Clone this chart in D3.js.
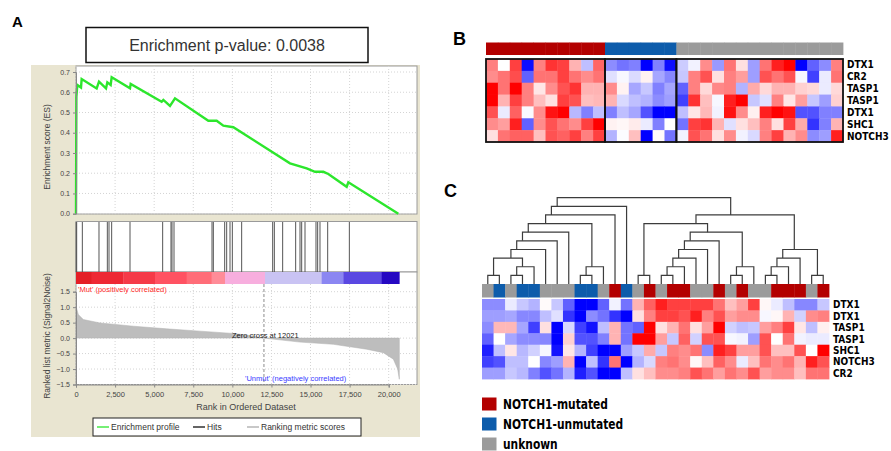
<!DOCTYPE html>
<html lang="en">
<head>
<meta charset="UTF-8">
<title>NOTCH1 GSEA and heatmaps</title>
<script src="https://cdn.jsdelivr.net/npm/d3@7"></script>
<style>
  body { margin: 0; background: #fff; }
  text { font-family: "Liberation Sans", Arial, sans-serif; }
  .lab { font-family: "Liberation Sans Narrow", "DejaVu Sans Condensed", "Liberation Sans", sans-serif; font-weight: bold; }
</style>
</head>
<body>
<div id="fig"></div>
<script>
// ---------- panel A data ----------
var xTicks = [0, 2500, 5000, 7500, 10000, 12500, 15000, 17500, 20000];
var esTicks = [0, 0.1, 0.2, 0.3, 0.4, 0.5, 0.6, 0.7];
var metricTicks = [1.5, 1.0, 0.5, 0.0, -0.5, -1.0, -1.5];

// running enrichment score
var esRank  = [0, 25, 85, 320, 362, 1322, 1471, 1919, 2004, 2217, 2281, 3454, 3497, 5479, 5586, 6012, 6332, 8464, 8997, 9423, 10063, 13687, 14754, 15287, 15820, 16140, 17312, 17419, 20616];
var esScore = [0, 0.578, 0.636, 0.623, 0.665, 0.619, 0.652, 0.619, 0.649, 0.636, 0.674, 0.619, 0.641, 0.553, 0.562, 0.532, 0.57, 0.459, 0.459, 0.435, 0.427, 0.249, 0.224, 0.207, 0.207, 0.196, 0.133, 0.155, 0];

var hitRanks = [10, 43, 405, 1471, 2004, 2111, 2281, 3454, 5543, 6076, 6140, 6268, 8699, 8784, 9509, 9637, 9850, 9999, 10596, 12579, 12685, 13218, 14050, 14327, 14434, 14647, 15350, 15457, 15606, 16097, 17483];

var metricRank  = [0, 149, 469, 1535, 3667, 5799, 7931, 10063, 11000, 12021, 14327, 16459, 18591, 19657, 20296, 20573, 20680];
var metricValue = [1.03, 0.76, 0.6, 0.49, 0.385, 0.3, 0.225, 0.15, 0.09, 0, -0.13, -0.2, -0.36, -0.47, -0.68, -1.0, -1.33];
var zeroCross = 12021;

var barStops  = [0, 1002, 3028, 5053, 7079, 8677, 9530, 12088, 15713, 17099, 19550, 20680];
var barColors = ["#e41e26", "#ee2834", "#f53a48", "#ff5262", "#ff6d78", "#ff8c98", "#f7aede", "#c9c3f3", "#8b86f2", "#5a48e2", "#2508c2"];

// ---------- panels B and C data ----------
var groupNames  = ["NOTCH1-mutated", "NOTCH1-unmutated", "unknown"];
var groupColors = ["#b30000", "#0d5cab", "#9b9b9b"];

var genesB  = ["DTX1", "CR2", "TASP1", "TASP1", "DTX1", "SHC1", "NOTCH3"];
var groupsB = [0,0,0,0,0,0,0,0,0,0, 1,1,1,1,1,1, 2,2,2,2,2,2,2,2,2,2,2,2,2,2];
var heatB = [
  [0.5, 0, 0.75, -0.95, 0.5, 0.8, 0.75, 0.3, -0.25, 0.6,  -0.45, -0.55, -0.5, -1, -0.5, -0.95,  -0.2, -0.05, 0.45, -0.4, 0.55, 0.12, -0.38, 0.55, 0.88, 1, -1, -0.62, -0.45, 0.5],
  [0.45, 0.55, 0.7, -0.62, 0.55, 0.55, 0.75, 0.55, 0.45, 0.55,  -0.12, -0.03, -0.14, 0.05, -0.35, -0.47,  -0.22, 0.5, 0.68, 0.12, 0.5, 0.38, -0.38, 0.68, 0.55, 0.68, -0.03, -0.75, -0.08, 0.55],
  [1, 0.55, 1, 0.5, 0.1, 0.45, 0.68, 0.8, 0.3, 0.3,  0.45, 0.05, -0.35, -0.22, -0.5, -0.35,  -0.62, 0.5, 0.15, 0.47, 0.5, -0.3, 0.33, 0.15, 0.3, 0.3, 0.18, 0.15, -0.08, 0.15],
  [1, 0.3, 0.75, 0.5, 0.25, 0.12, 0.75, 0.68, 0.25, 0.28,  0.3, -0.15, -0.25, -0.3, -0.45, -0.38,  -0.75, 0.8, 0.25, -0.03, 0.88, 1, -0.22, -0.12, 0.5, 0.1, 0.38, -0.22, -0.38, 0.18],
  [0.68, -0.08, 0.62, -0.02, 0.45, 0.93, 1, -0.28, -0.5, -0.25,  -0.5, -0.25, -0.35, -0.68, -1, -1,  -0.25, 0.1, 0.28, -0.05, 0.93, 0.45, 0.06, 0.88, 1, 0.93, -0.68, -0.68, -0.5, -0.5],
  [0.45, 0.38, 0.88, -0.62, 0.45, 0.68, 0.55, 0.45, 0.75, 1,  0.05, 0.03, 0.08, -0.08, -0.5, 0,  -0.55, 0.75, 0.8, 0.3, -0.12, 0.12, 0.25, 0.5, 0.12, 0.75, 0.33, -0.8, -0.5, 0.3],
  [0.12, 0.55, 0.62, 0.62, 0.25, 0.68, 0.62, 0.75, 0.5, 0.75,  -0.3, -0.01, 0.25, -1, 0.02, -0.55,  -0.05, 0.68, 0.55, 0.12, 0.45, -0.05, -0.15, 0.5, 0.75, 0.3, 0.45, -0.45, -0.38, 0.88]
];

var genesC  = ["DTX1", "DTX1", "TASP1", "TASP1", "SHC1", "NOTCH3", "CR2"];
var groupsC = [2,1,2,1,1,2,2,2,1,1,2,0,1,2,0,2,0,0,2,2,0,2,0,2,2,0,0,0,2,0];
var heatC = [
  [-0.45, -0.45, -0.08, -0.22, -0.3, 0.02, -0.22, -0.62, -1, -1, -0.62, -0.05, -0.55, 0.3, 0.62, 0.88, 0.75, 0.75, 0.75, 0.75, 0.55, 0.25, 0.38, 0.75, 0.03, -0.08, -0.25, -0.47, -0.47, -0.22],
  [-0.38, -0.38, -0.35, -0.47, -0.47, -0.25, -0.12, -0.8, -1, -0.45, -0.55, -0.8, -1, 0.12, 0.5, 0.75, 0.75, 0.68, 0.88, 0.5, 0.68, 0.38, 0.45, 0.45, -0.03, 0.03, 0.3, -0.18, 0.45, 0.5],
  [-0.45, 0.28, 0.28, -0.35, -0.75, 0.12, -1, -0.15, -0.75, -0.93, -0.25, 0.3, -0.55, -0.62, 1, 0.12, 0.3, 0.55, 0.12, 0.38, 1, -0.18, -0.25, -0.22, 0.38, 0.5, 0.75, 0.1, -0.25, 0.06],
  [-0.62, 0, -0.35, -0.45, -0.45, -0.47, -1, 0.18, -0.68, -0.68, -0.5, 0.3, -0.55, 1, 1, 0.38, -0.22, 0.62, -0.18, 0.68, 0.68, -0.03, -0.05, -0.38, 0.68, 0, 0.55, -0.05, -0.08, -0.08],
  [-0.88, -0.25, 0.1, -0.28, -0.18, -0.03, -0.93, 0.1, -0.3, -0.75, -1, -1, -0.38, -0.22, 0.33, -0.22, 0.5, 0.45, 0.55, -0.45, 0.88, 0.75, 0.38, 0.38, 0.68, 0.25, 0.25, 0.68, 0, 1],
  [-0.75, -0.68, -0.25, -0.25, 0, -0.47, -0.38, 0.3, -1, -0.25, -0.8, 0.55, -1, -0.3, -0.15, 0.5, 0.55, 0.45, 0.03, 0.25, 0.62, 0.45, -0.08, 0.25, 0.55, 0.45, 0.55, 0.3, 0.88, 0.68],
  [-0.38, -0.38, -0.22, -0.28, -0.5, -0.68, -0.55, -0.3, -0.88, -0.68, -1, -1, -0.25, 0.12, 0.25, 0.45, 0.45, 0.5, 0.68, 0.55, 0.38, 0.55, 0.45, 0.68, 0.38, 0.45, 0.45, 0.25, 0.55, 0.55]
];

// dendrogram merges: [left, right, level]; leaves are 0..29, merge k gets id 30+k
var merges = [
  [0, 1, 1], [2, 3, 1], [31, 4, 2], [30, 32, 3], [33, 5, 4], [34, 6, 5], [35, 7, 6],
  [8, 9, 1], [37, 10, 2], [36, 38, 7], [39, 11, 8], [40, 12, 9],
  [13, 14, 1], [15, 16, 1], [43, 17, 2], [44, 18, 3], [45, 19, 4], [46, 20, 5],
  [21, 22, 1], [48, 23, 2], [47, 49, 6], [42, 50, 7],
  [24, 25, 1], [52, 26, 2], [53, 27, 3], [28, 29, 1], [54, 55, 4], [51, 56, 8],
  [41, 57, 10]
];

var svg = d3.select("#fig").append("svg")
    .attr("width", 891)
    .attr("height", 451);

// =============== Panel A ===============
var x = d3.scaleLinear().domain([0, 20000]).range([76, 388.7]);
var yES = d3.scaleLinear().domain([0, 0.7]).range([213.7, 72]);
var yM = d3.scaleLinear().domain([-1.5, 1.5]).range([384.5, 291.7]);
var left = 76, right = 417;

svg.append("rect").attr("x", 31).attr("y", 65).attr("width", 389).attr("height", 372).attr("fill", "#e9e5d1");

// plot backgrounds
svg.append("rect").attr("x", left).attr("y", 66).attr("width", right - left).attr("height", 148)
    .attr("fill", "#fff").attr("stroke", "#9a9a9a");
svg.append("rect").attr("x", left).attr("y", 221.5).attr("width", right - left).attr("height", 50.5)
    .attr("fill", "#fff").attr("stroke", "#9a9a9a");
svg.append("rect").attr("x", left).attr("y", 272).attr("width", right - left).attr("height", 112.5)
    .attr("fill", "#fff").attr("stroke", "#9a9a9a");

// grids
var grid = svg.append("g").attr("stroke", "#d4d4d4").attr("stroke-dasharray", "1,2");
xTicks.forEach(function(t) {
  grid.append("line").attr("x1", x(t)).attr("x2", x(t)).attr("y1", 66).attr("y2", 214);
  grid.append("line").attr("x1", x(t)).attr("x2", x(t)).attr("y1", 284).attr("y2", 384.5);
});
esTicks.forEach(function(t) {
  grid.append("line").attr("x1", left).attr("x2", right).attr("y1", yES(t)).attr("y2", yES(t));
});
metricTicks.forEach(function(t) {
  grid.append("line").attr("x1", left).attr("x2", right).attr("y1", yM(t)).attr("y2", yM(t));
});

// ES curve
var esData = esRank.map(function(r, i) { return [r, esScore[i]]; });
svg.append("path")
    .datum(esData)
    .attr("fill", "none")
    .attr("stroke", "#2ce62c")
    .attr("stroke-width", 2.4)
    .attr("d", d3.line().x(d => x(d[0])).y(d => yES(d[1])));

// hits
svg.append("g").selectAll("line").data(hitRanks).join("line")
    .attr("x1", d => x(d)).attr("x2", d => x(d))
    .attr("y1", 222).attr("y2", 272)
    .attr("stroke", "#555").attr("stroke-width", 1);

// colour bar
svg.append("g").selectAll("rect").data(barColors).join("rect")
    .attr("x", (d, i) => x(barStops[i]))
    .attr("width", (d, i) => x(barStops[i + 1]) - x(barStops[i]) + 0.3)
    .attr("y", 272).attr("height", 12)
    .attr("fill", d => d);

// ranked metric area
var mData = metricRank.map(function(r, i) { return [r, metricValue[i]]; });
svg.append("path")
    .datum(mData)
    .attr("fill", "#bdbdbd")
    .attr("stroke", "#b0b0b0")
    .attr("stroke-width", 0.5)
    .attr("d", d3.area().x(d => x(d[0])).y0(yM(0)).y1(d => yM(d[1])));

svg.append("line")
    .attr("x1", x(zeroCross)).attr("x2", x(zeroCross))
    .attr("y1", 284).attr("y2", 384.5)
    .attr("stroke", "#8c8c8c").attr("stroke-dasharray", "3,2");

svg.append("text").attr("x", 232).attr("y", 338).attr("font-size", 7.5).attr("fill", "#222")
    .text("Zero cross at " + zeroCross);
svg.append("text").attr("x", 78).attr("y", 292).attr("font-size", 7.5).attr("fill", "#ff2a2a")
    .text("'Mut' (positively correlated)");
svg.append("text").attr("x", 245).attr("y", 381).attr("font-size", 7.5).attr("fill", "#3a3aff")
    .text("'Unmut' (negatively correlated)");

// axes
var axES = svg.append("g").attr("transform", "translate(" + left + ",0)")
    .call(d3.axisLeft(yES).tickValues(esTicks).tickFormat(d3.format(".1f")).tickSize(3));
var axM = svg.append("g").attr("transform", "translate(" + left + ",0)")
    .call(d3.axisLeft(yM).tickValues(metricTicks).tickFormat(d3.format(".1f")).tickSize(3));
var axX = svg.append("g").attr("transform", "translate(0,384.5)")
    .call(d3.axisBottom(x).tickValues(xTicks).tickFormat(d3.format(",")).tickSize(3));
[axES, axM, axX].forEach(function(a) {
  a.select(".domain").attr("stroke", "#888");
  a.selectAll(".tick line").attr("stroke", "#888");
  a.selectAll("text").attr("fill", "#444").attr("font-family", "Liberation Sans, Arial");
});
axES.selectAll("text").attr("font-size", 7);
axM.selectAll("text").attr("font-size", 7);
axX.selectAll("text").attr("font-size", 7.5).attr("dy", "0.9em");

svg.append("text").attr("transform", "translate(50,147) rotate(-90)").attr("text-anchor", "middle")
    .attr("font-size", 8.5).attr("fill", "#444").text("Enrichment score (ES)");
svg.append("text").attr("transform", "translate(50,336) rotate(-90)").attr("text-anchor", "middle")
    .attr("font-size", 8.5).attr("fill", "#444").text("Ranked list metric (Signal2Noise)");
svg.append("text").attr("x", 246).attr("y", 410).attr("text-anchor", "middle")
    .attr("font-size", 9).attr("fill", "#444").text("Rank in Ordered Dataset");

// legend of panel A
var legA = svg.append("g");
legA.append("rect").attr("x", 93).attr("y", 418).attr("width", 268).attr("height", 18)
    .attr("fill", "#fff").attr("stroke", "#222");
var legItems = [
  {x: 97, color: "#2ce62c", label: "Enrichment profile"},
  {x: 193, color: "#111", label: "Hits"},
  {x: 247, color: "#aaa", label: "Ranking metric scores"}
];
legItems.forEach(function(d) {
  legA.append("line").attr("x1", d.x).attr("x2", d.x + 12).attr("y1", 427).attr("y2", 427)
      .attr("stroke", d.color).attr("stroke-width", 1.3);
  legA.append("text").attr("x", d.x + 14).attr("y", 430).attr("font-size", 8.5).attr("fill", "#333").text(d.label);
});

// p-value box
svg.append("rect").attr("x", 86).attr("y", 27.5).attr("width", 282).attr("height", 35)
    .attr("fill", "#fff").attr("stroke", "#111").attr("stroke-width", 1.5);
svg.append("text").attr("x", 227).attr("y", 50.5).attr("text-anchor", "middle")
    .attr("font-size", 16).attr("fill", "#333").text("Enrichment p-value: 0.0038");

// panel letters
svg.append("text").attr("x", 12).attr("y", 27).attr("font-size", 15).attr("font-weight", 900).text("A");
svg.append("text").attr("x", 453).attr("y", 45).attr("font-size", 18).attr("font-weight", 900).text("B");
svg.append("text").attr("x", 444).attr("y", 197).attr("font-size", 18).attr("font-weight", 900).text("C");

// =============== heatmaps ===============
var heatColor = d3.scaleLinear().domain([-1, 0, 1]).range(["#0000ff", "#ffffff", "#ff0000"]);

function heatmap(g, values, genes, xs, ys) {
  values.forEach(function(row, r) {
    g.append("g").selectAll("rect").data(row).join("rect")
        .attr("x", (d, c) => xs(c))
        .attr("y", ys(r))
        .attr("width", xs.bandwidth() + 0.4)
        .attr("height", ys.bandwidth() + 0.4)
        .attr("fill", d => heatColor(d));
  });
  g.append("g").selectAll("text").data(genes).join("text")
      .attr("class", "lab")
      .attr("x", xs.range()[1] + 4)
      .attr("y", (d, i) => ys(i) + ys.bandwidth() / 2 + 3.5)
      .attr("font-size", 10)
      .text(d => d);
}

// Panel B
var xB = d3.scaleBand().domain(d3.range(30)).range([486, 843]);
var yB = d3.scaleBand().domain(d3.range(7)).range([59, 142]);
var gB = svg.append("g");
gB.selectAll(".hdr").data(groupsB).join("rect")
    .attr("x", (d, i) => xB(i)).attr("y", 42.5)
    .attr("width", xB.bandwidth() + 0.4).attr("height", 12.5)
    .attr("fill", d => groupColors[d]);
heatmap(gB, heatB, genesB, xB, yB);
[0, 1, 2].forEach(function(gi) {
  var cols = d3.range(30).filter(i => groupsB[i] === gi);
  var x0 = xB(cols[0]), x1 = xB(cols[cols.length - 1]) + xB.bandwidth();
  gB.append("rect").attr("x", x0).attr("y", 59).attr("width", x1 - x0).attr("height", 83)
      .attr("fill", "none").attr("stroke", "#111").attr("stroke-width", 1.8);
});

// Panel C
var xC = d3.scaleBand().domain(d3.range(30)).range([482, 829]);
var yC = d3.scaleBand().domain(d3.range(7)).range([299, 379]);
var gC = svg.append("g");
gC.selectAll(".hdr").data(groupsC).join("rect")
    .attr("x", (d, i) => xC(i)).attr("y", 284)
    .attr("width", xC.bandwidth() + 0.4).attr("height", 13.5)
    .attr("fill", d => groupColors[d]);
heatmap(gC, heatC, genesC, xC, yC);

// dendrogram: node x is the mean of its leaf positions
var yD = d3.scaleLinear().domain([0, 10]).range([284, 197.7]);
var nodes = d3.range(30).map(i => ({x: xC(i) + xC.bandwidth() / 2, n: 1, h: 0}));
var dendro = gC.append("g").attr("fill", "none").attr("stroke", "#3c3c3c").attr("stroke-width", 1.2);
merges.forEach(function(m) {
  var a = nodes[m[0]], b = nodes[m[1]];
  var node = {n: a.n + b.n, x: (a.x * a.n + b.x * b.n) / (a.n + b.n), h: m[2]};
  nodes.push(node);
  dendro.append("path").attr("d",
    "M" + a.x + "," + yD(a.h) + "V" + yD(node.h) + "H" + b.x + "V" + yD(b.h));
});

// legend for groups
var legC = svg.append("g");
groupNames.forEach(function(name, i) {
  var y0 = 397.5 + i * 20;
  legC.append("rect").attr("x", 482).attr("y", y0).attr("width", 14.5).attr("height", 13)
      .attr("fill", groupColors[i]);
  legC.append("text").attr("class", "lab")
      .attr("transform", "translate(503," + (y0 + 11) + ") scale(0.88,1)")
      .attr("font-size", 13.5).text(name);
});
</script>
</body>
</html>
